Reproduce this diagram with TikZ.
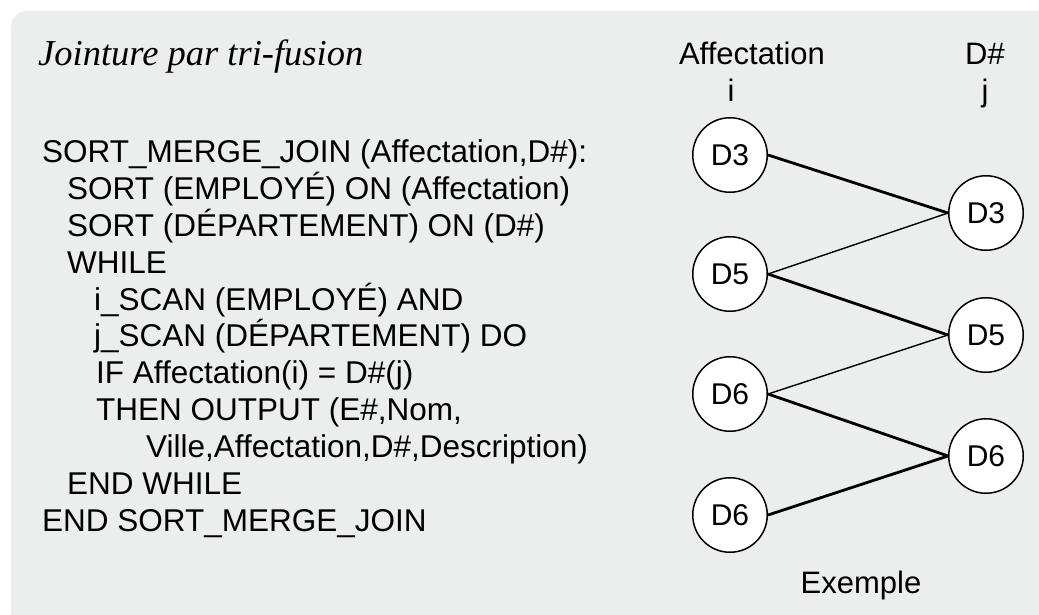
\documentclass[tikz,border=0pt]{standalone}
\usepackage{fontspec}
\setmainfont{Liberation Sans}
\newfontfamily\titlefont{Liberation Serif}
\definecolor{bg}{HTML}{ECEDED}
\begin{document}
\begin{tikzpicture}[x=1pt,y=-1pt,
  code/.style={anchor=base west, inner sep=0pt, font=\fontsize{31.5}{37}\selectfont},
  hdr/.style={anchor=base, inner sep=0pt, font=\fontsize{31}{37}\selectfont},
  val/.style={circle, draw=black, line width=1.5pt, fill=white, minimum size=74.5pt, inner sep=0pt, font=\fontsize{30}{36}\selectfont},
  strong/.style={line width=2.8pt},
  weak/.style={line width=1.4pt}]
\useasboundingbox (0,0) rectangle (1039,614);
\clip (0,0) rectangle (1039,614);
\fill[bg, rounded corners=16pt] (11,11) rectangle (1070,640);

\node[anchor=base west, inner sep=0pt, font=\titlefont\itshape\fontsize{36.5}{40}\selectfont] (title) at (38,65) {Jointure par tri-fusion};

\node[code] (c1) at (42,162) {SORT\_MERGE\_JOIN (Affectation,D\#):};
\node[code] (c2) at (67,199) {SORT (EMPLOYÉ) ON (Affectation)};
\node[code] (c3) at (67,236) {SORT (DÉPARTEMENT) ON (D\#)};
\node[code] (c4) at (67,273) {WHILE};
\node[code] (c5) at (94,310) {i\_SCAN (EMPLOYÉ) AND};
\node[code] (c6) at (94,346) {j\_SCAN (DÉPARTEMENT) DO};
\node[code] (c7) at (96,383) {IF Affectation(i) = D\#(j)};
\node[code] (c8) at (96,420) {THEN OUTPUT (E\#,Nom,};
\node[code] (c9) at (146,457) {Ville,Affectation,D\#,Description)};
\node[code] (c10) at (67,494) {END WHILE};
\node[code] (c11) at (42,531) {END SORT\_MERGE\_JOIN};

\node[hdr] (h1) at (752,64) {Affectation};
\node[hdr] (h2) at (731,101) {i};
\node[hdr] (h3) at (985,64) {D\#};
\node[hdr] (h4) at (985,101) {j};
\node[hdr] (ex) at (861,593) {Exemple};

\node[val] (l1) at (730,155) {D3};
\node[val] (l2) at (730,274) {D5};
\node[val] (l3) at (730,394) {D6};
\node[val] (l4) at (730,515) {D6};
\node[val] (r1) at (986,213) {D3};
\node[val] (r2) at (986,335) {D5};
\node[val] (r3) at (986,456) {D6};

\draw[strong] (l1.east) -- (r1.west);
\draw[weak] (l2.east) -- (r1.west);
\draw[strong] (l2.east) -- (r2.west);
\draw[weak] (l3.east) -- (r2.west);
\draw[strong] (l3.east) -- (r3.west);
\draw[strong] (l4.east) -- (r3.west);
\end{tikzpicture}
\end{document}
